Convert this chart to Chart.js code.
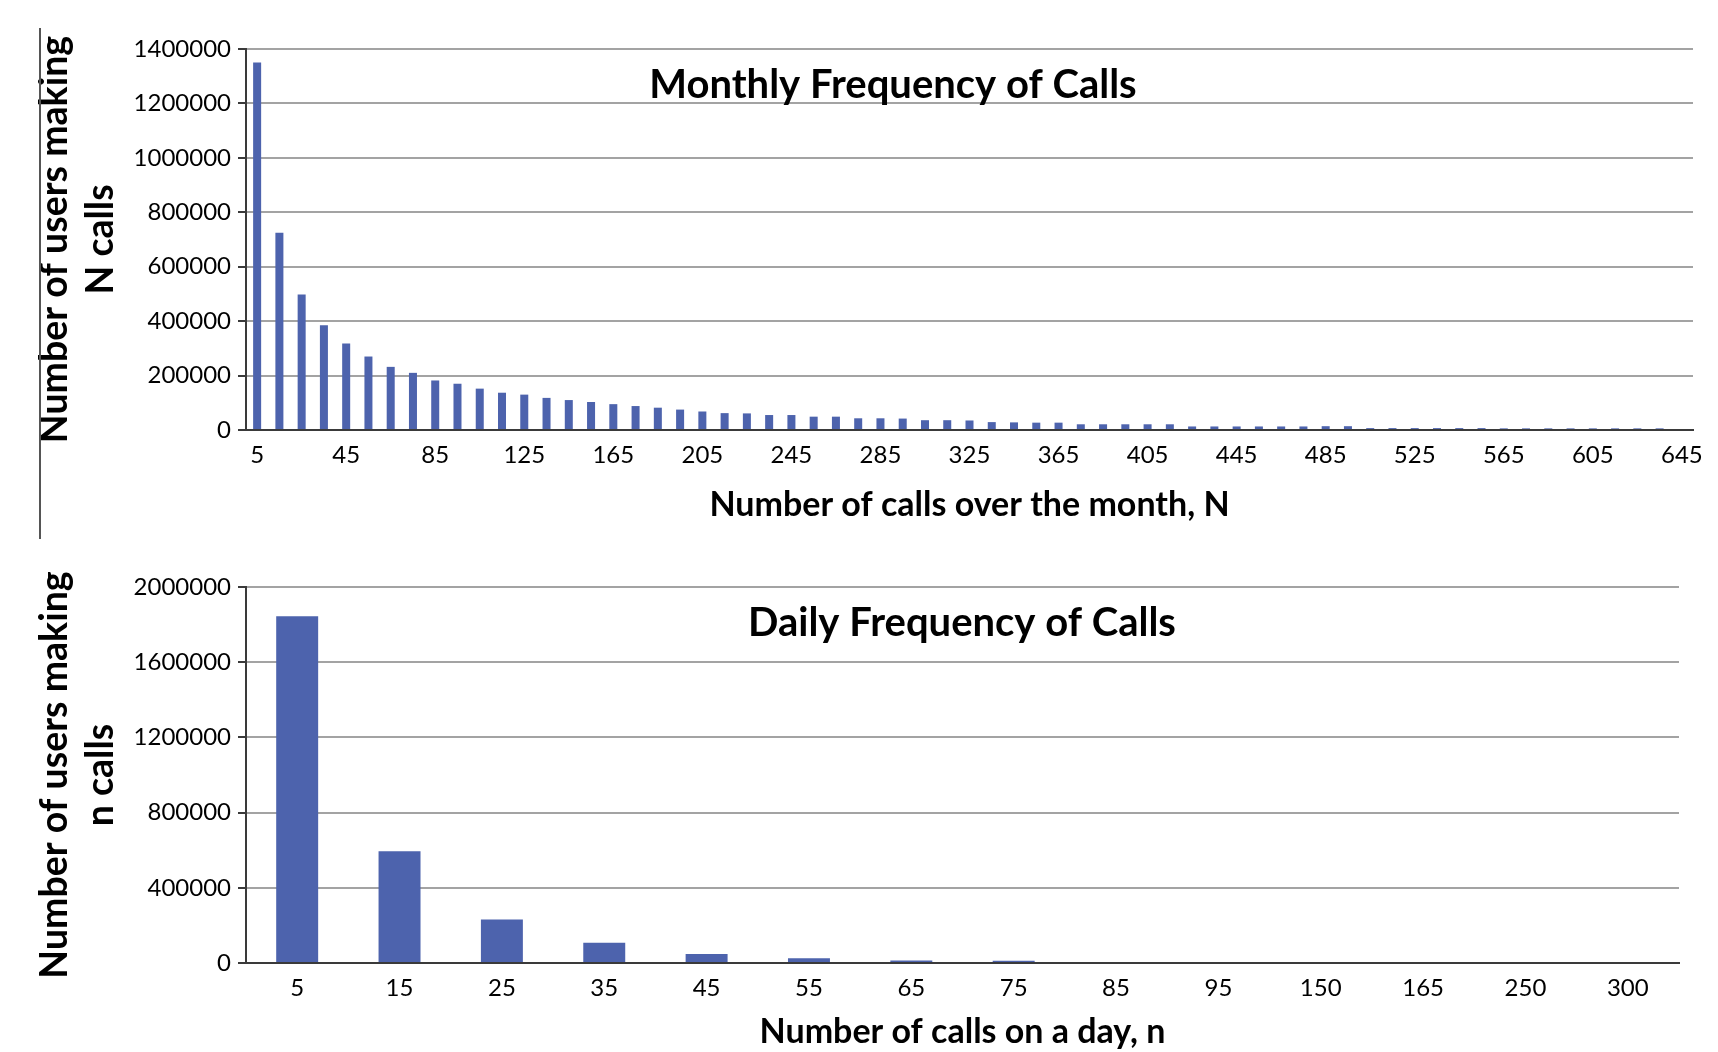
<!DOCTYPE html>
<html><head><meta charset="utf-8">
<script src="https://cdn.jsdelivr.net/npm/chart.js@4.4.1/dist/chart.umd.min.js"></script>
<style>
html,body{margin:0;padding:0;background:#fff;}
#wrap{position:relative;width:1718px;height:1052px;overflow:hidden;}
#c1{position:absolute;left:0;top:0;width:1718px;height:540px;}
#c2{position:absolute;left:0;top:540px;width:1718px;height:512px;}
#vline{position:absolute;left:39px;top:28px;width:2px;height:511px;background:#555;}
</style></head><body>
<div id="wrap">
<canvas id="c1" width="1718" height="540"></canvas>
<canvas id="c2" width="1718" height="512"></canvas>
<div id="vline"></div>
</div>
<script>
// ---- Monthly data ----
const monthlyCalls = [5,15,25,35,45,55,65,75,85,95,105,115,125,135,145,155,165,175,185,195,205,215,225,235,245,255,265,275,285,295,305,315,325,335,345,355,365,375,385,395,405,415,425,435,445,455,465,475,485,495,505,515,525,535,545,555,565,575,585,595,605,615,625,635,645];
const monthlyUsers = [1350000,725000,498000,385000,318000,270000,232000,210000,182000,170000,152000,137000,130000,118000,110000,103000,95000,88000,82000,75000,68000,62000,61000,55000,55000,49000,49000,43000,43000,42000,36000,36000,35000,29000,28000,27000,27000,21000,21000,21000,21000,21000,13000,13000,13000,13000,13000,13000,14000,14000,7000,7000,7000,7000,7000,7000,6000,6000,6000,6000,6000,6000,6000,6000,0];
const monthlyShownLabels = ['5','45','85','125','165','205','245','285','325','365','405','445','485','525','565','605','645'];
const monthlyYTicks = [0,200000,400000,600000,800000,1000000,1200000,1400000];

// ---- Daily data ----
const dailyCalls = ['5','15','25','35','45','55','65','75','85','95','150','165','250','300'];
const dailyUsers = [1845000,595000,232000,108000,48000,25000,13000,12000,0,0,0,0,0,0];
const dailyYTicks = [0,400000,800000,1200000,1600000,2000000];

const FONT = 'Lato, "Open Sans", "DejaVu Sans", sans-serif';
const BAR = '#4d63ad';
const GRID = '#a3a3a3';
const AXIS = '#3a3a3a';

const innerTitle = {
  id: 'innerTitle',
  afterDraw(chart, args, opts) {
    const ctx = chart.ctx;
    ctx.save();
    ctx.font = opts.font;
    ctx.fillStyle = '#000';
    ctx.textAlign = 'center';
    ctx.textBaseline = 'middle';
    ctx.fillText(opts.text, opts.x, opts.y);
    ctx.restore();
  }
};

function makeChart(id, cfg) {
  return new Chart(document.getElementById(id), {
    type: 'bar',
    data: {
      labels: cfg.labels,
      datasets: [{ data: cfg.values, backgroundColor: BAR, borderWidth: 0,
        barPercentage: cfg.barPct, categoryPercentage: 1 }]
    },
    options: {
      responsive: false, animation: false, devicePixelRatio: 1,
      layout: { padding: { top: cfg.padTop, right: cfg.padRight, left: 0, bottom: 0 } },
      plugins: {
        legend: { display: false }, tooltip: { enabled: false },
        innerTitle: { text: cfg.title, x: cfg.titleX, y: cfg.titleY, font: 'bold 40px ' + FONT }
      },
      scales: {
        x: {
          grid: { display: false, drawTicks: false },
          border: { display: true, color: AXIS, width: 2 },
          ticks: {
            autoSkip: false, maxRotation: 0, minRotation: 0, padding: cfg.xTickPad,
            color: '#000', font: { family: FONT, size: 24 },
            callback: cfg.xCallback
          },
          title: { display: true, text: cfg.xTitle, color: '#000',
            font: { family: FONT, size: 34, weight: 'bold', lineHeight: 1.2 },
            padding: { top: 0, bottom: cfg.xTitlePad } },
          afterFit: s => { s.height = cfg.xHeight; }
        },
        y: {
          min: 0, max: cfg.yMax,
          afterBuildTicks: s => { s.ticks = cfg.yTicks.map(v => ({ value: v })); },
          grid: { color: GRID, lineWidth: 2, tickLength: 8, tickColor: AXIS, tickWidth: 2 },
          border: { display: true, color: AXIS, width: 2 },
          ticks: { padding: 7, color: '#000', font: { family: FONT, size: 24 },
            callback: v => String(v) },
          title: { display: true, text: cfg.yTitle, color: '#000',
            font: { family: FONT, size: 37.5, weight: 'bold', lineHeight: 46 / 37.5 },
            padding: { top: 32, bottom: 0 } },
          afterFit: s => { s.width = 246; }
        }
      }
    },
    plugins: [innerTitle]
  });
}

makeChart('c1', {
  labels: monthlyCalls.map(String),
  values: monthlyUsers,
  barPct: 0.36,
  padTop: 49, padRight: 25,
  title: 'Monthly Frequency of Calls', titleX: 893, titleY: 85,
  xTickPad: 11, xTitlePad: 15, xHeight: 110,
  xTitle: 'Number of calls over the month, N',
  xCallback: function(v, i) { return i % 4 === 0 ? monthlyShownLabels[i / 4] : ''; },
  yMax: 1400000, yTicks: monthlyYTicks,
  yTitle: ['Number of users making', 'N calls']
});

makeChart('c2', {
  labels: dailyCalls,
  values: dailyUsers,
  barPct: 0.41,
  padTop: 47, padRight: 39,
  title: 'Daily Frequency of Calls', titleX: 962, titleY: 83,
  xTickPad: 11, xTitlePad: 0, xHeight: 89,
  xTitle: 'Number of calls on a day, n',
  xCallback: function(v, i) { return dailyCalls[i]; },
  yMax: 2000000, yTicks: dailyYTicks,
  yTitle: ['Number of users making', 'n calls']
});
</script>
</body></html>
